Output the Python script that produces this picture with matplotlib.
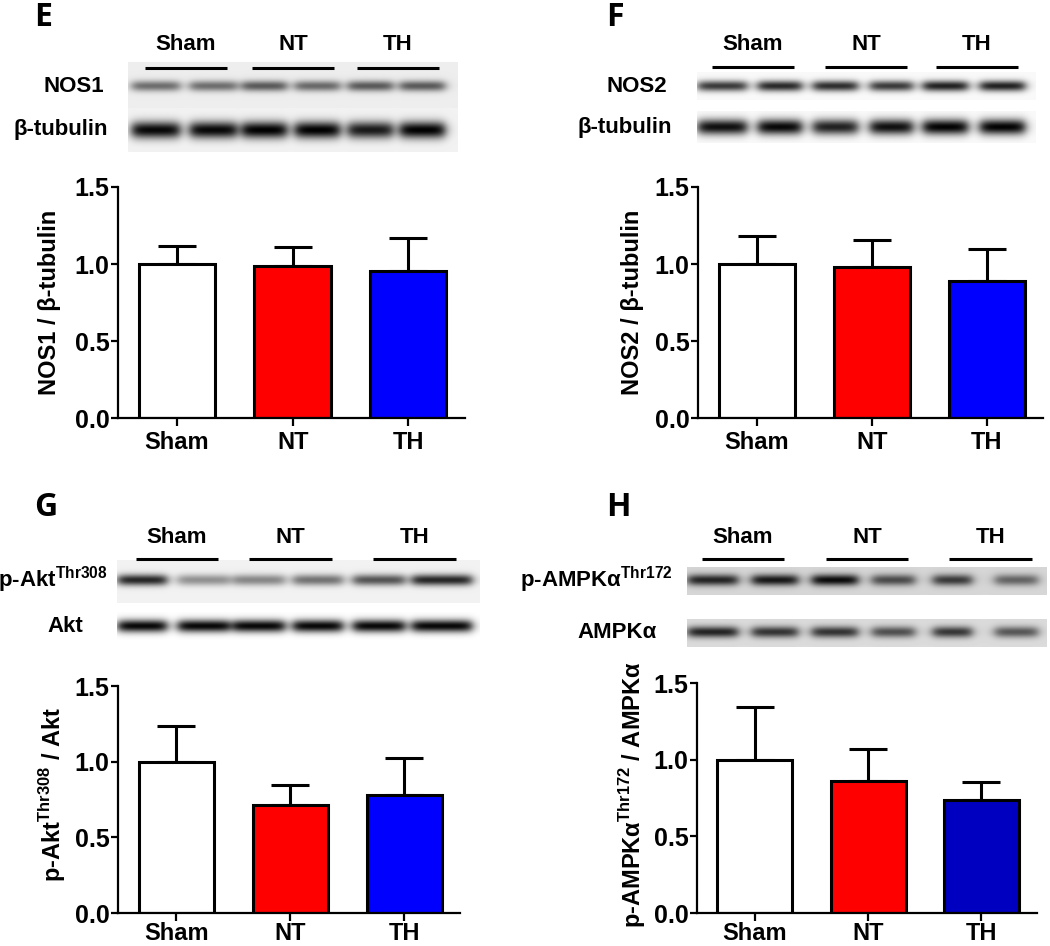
import numpy as np
import matplotlib
matplotlib.use("Agg")
import matplotlib.pyplot as plt

plt.rcParams['font.family'] = ['Liberation Sans', 'DejaVu Sans']
plt.rcParams['font.weight'] = 'bold'
plt.rcParams['mathtext.fontset'] = 'custom'
plt.rcParams['mathtext.rm'] = 'Liberation Sans'
plt.rcParams['mathtext.bf'] = 'Liberation Sans:bold'

groups = ["Sham", "NT", "TH"]

# bar values (mean, upper SEM)
nos1_mean = [1.00, 0.99, 0.955]
nos1_sem = [0.116, 0.123, 0.212]
nos2_mean = [1.00, 0.982, 0.891]
nos2_sem = [0.181, 0.173, 0.208]
akt_mean = [1.00, 0.716, 0.778]
akt_sem = [0.236, 0.127, 0.244]
ampk_mean = [1.00, 0.86, 0.737]
ampk_sem = [0.344, 0.212, 0.119]

# blot band darkness per lane (0 = no band, 1 = black)
nos1_bands = [0.50, 0.50, 0.58, 0.52, 0.58, 0.58]
tub_e_bands = [0.92, 0.92, 0.95, 0.95, 0.85, 0.95]
nos2_bands = [0.75, 0.82, 0.80, 0.75, 0.85, 0.85]
tub_f_bands = [0.92, 0.95, 0.85, 0.92, 0.97, 0.97]
pakt_bands = [0.80, 0.38, 0.42, 0.50, 0.62, 0.80]
akt_bands = [0.97, 0.97, 0.97, 0.97, 0.97, 0.97]
pampk_bands = [0.70, 0.75, 0.80, 0.55, 0.62, 0.45]
ampk_bands = [0.72, 0.66, 0.66, 0.55, 0.65, 0.52]

W, H = 1050, 946
fig = plt.figure(figsize=(W / 100, H / 100), dpi=100)

# overlay in pixel coords for blots and free text
bg = fig.add_axes([0, 0, 1, 1])
bg.set_xlim(0, W)
bg.set_ylim(H, 0)
bg.axis('off')


def blot_row(x0, x1, y0, y1, lanes, dark, yc, sy, bgval):
    xs = np.arange(x0, x1) + 0.5
    ys = np.arange(y0, y1) + 0.5
    img = np.full((len(ys), len(xs)), bgval)
    for (l0, l1), d in zip(lanes, dark):
        gx = 1 / (1 + np.exp(-(xs - l0) / 3.0)) / (1 + np.exp((xs - l1) / 3.0))
        gy = np.exp(-0.5 * ((ys - yc) / sy) ** 2)
        img = img - d * np.outer(gy, gx)
    img = np.clip(img, 0, 1)
    bg.imshow(img, cmap='gray', vmin=0, vmax=1, extent=(x0, x1, y1, y0),
              aspect='auto', interpolation='bilinear')


def group_heads(xs, y_line, y_text):
    for g, (a, b) in zip(groups, xs):
        bg.plot([a, b], [y_line, y_line], color='black', lw=2.2, solid_capstyle='butt')
        bg.text((a + b) / 2, y_text, g, ha='center', va='center', fontsize=16, fontweight='bold')


def panel_letter(x, y, s):
    bg.text(x, y, s, ha='left', va='center', fontsize=23, family='Open Sans', fontweight='bold')


# ---- E blot
lanes_e = [(132, 180), (190, 237), (242, 287), (295, 340), (348, 393), (400, 445)]
blot_row(128, 458, 62, 108, lanes_e, nos1_bands, 86, 3.8, 0.93)
blot_row(128, 458, 108, 152, lanes_e, tub_e_bands, 130, 6.0, 0.95)
group_heads([(145, 227), (252, 334), (357, 439)], 68, 45)
bg.text(104, 86, "NOS1", ha='right', va='center', fontsize=16)
bg.text(108, 130, "β-tubulin", ha='right', va='center', fontsize=16)
panel_letter(34, 17, "E")

# ---- F blot
lanes_f = [(698, 747), (758, 802), (813, 858), (870, 913), (923, 968), (980, 1025)]
blot_row(697, 1036, 72, 100, lanes_f, nos2_bands, 86, 3.8, 0.98)
blot_row(697, 1036, 111, 143, lanes_f, tub_f_bands, 127, 5.5, 0.98)
group_heads([(712, 794), (825, 907), (936, 1018)], 67, 45)
bg.text(667, 86, "NOS2", ha='right', va='center', fontsize=16)
bg.text(672, 127, "β-tubulin", ha='right', va='center', fontsize=16)
panel_letter(606, 17, "F")

# ---- G blot
lanes_g = [(118, 167), (178, 230), (233, 285), (293, 343), (353, 405), (412, 472)]
blot_row(117, 480, 560, 603, lanes_g, pakt_bands, 580, 4.0, 0.95)
blot_row(117, 480, 612, 640, lanes_g, akt_bands, 626, 4.5, 1.0)
group_heads([(136, 218), (249, 332), (373, 456)], 559, 537)
bg.text(108, 580, r"p-Akt$^{\mathbf{Thr308}}$", ha='right', va='center', fontsize=16)
bg.text(65, 626, "Akt", ha='center', va='center', fontsize=16)
panel_letter(34, 507, "G")

# ---- H blot
lanes_h = [(688, 738), (752, 798), (812, 858), (872, 915), (933, 972), (995, 1038)]
blot_row(687, 1047, 567, 595, lanes_h, pampk_bands, 580, 4.0, 0.84)
blot_row(687, 1047, 619, 647, lanes_h, ampk_bands, 632, 4.0, 0.86)
group_heads([(702, 784), (826, 908), (949, 1032)], 559, 537)
bg.text(673, 580, r"p-AMPKα$^{\mathbf{Thr172}}$", ha='right', va='center', fontsize=16)
bg.text(657, 632, "AMPKα", ha='right', va='center', fontsize=16)
panel_letter(606, 507, "H")


def bar_panel(rect, means, sems, colors, ylabel, label_xy, xpad=3):
    ax = fig.add_axes(rect)
    x = np.arange(len(groups))
    ax.errorbar(x, means, yerr=[np.zeros(len(sems)), sems], fmt='none',
                ecolor='black', elinewidth=2.2, capsize=14, capthick=2.2, zorder=1)
    ax.bar(x, means, width=0.66, color=colors, edgecolor='black', linewidth=2.2, zorder=2)
    ax.set_xlim(-0.51, 2.49)
    ax.set_ylim(0, 1.5)
    ax.set_yticks([0, 0.5, 1.0, 1.5])
    ax.set_yticklabels(["0.0", "0.5", "1.0", "1.5"])
    ax.set_xticks(x)
    ax.set_xticklabels(groups)
    for s in ['top', 'right']:
        ax.spines[s].set_visible(False)
    for s in ['left', 'bottom']:
        ax.spines[s].set_linewidth(1.6)
    ax.tick_params(axis='y', length=5, width=1.6, labelsize=18, pad=1)
    ax.tick_params(axis='x', length=6, width=1.6, labelsize=17, pad=xpad)
    for t in ax.get_xticklabels() + ax.get_yticklabels():
        t.set_fontweight('bold')
    ax.patch.set_alpha(0)
    bg.text(label_xy[0], label_xy[1], ylabel, rotation=90, ha='center', va='center',
            fontsize=17, fontweight='bold')
    return ax


bar_panel([118 / W, 1 - 418 / H, 347 / W, 231 / H], nos1_mean, nos1_sem,
          ['white', '#ff0000', '#0000ff'], "NOS1 / β-tubulin", (50, 302))
bar_panel([698 / W, 1 - 418 / H, 345 / W, 231 / H], nos2_mean, nos2_sem,
          ['white', '#ff0000', '#0000ff'], "NOS2 / β-tubulin", (632, 302))
bar_panel([118 / W, 1 - 913 / H, 342 / W, 227 / H], akt_mean, akt_sem,
          ['white', '#ff0000', '#0000ff'], r"p-Akt$^{\mathrm{Thr308}}$ / Akt", (52, 795),
          xpad=0.5)
bar_panel([697 / W, 1 - 913 / H, 340 / W, 230 / H], ampk_mean, ampk_sem,
          ['white', '#ff0000', '#0000c0'], r"p-AMPKα$^{\mathrm{Thr172}}$ / AMPKα", (632, 795),
          xpad=0.5)

fig.savefig("out.png", dpi=100)
